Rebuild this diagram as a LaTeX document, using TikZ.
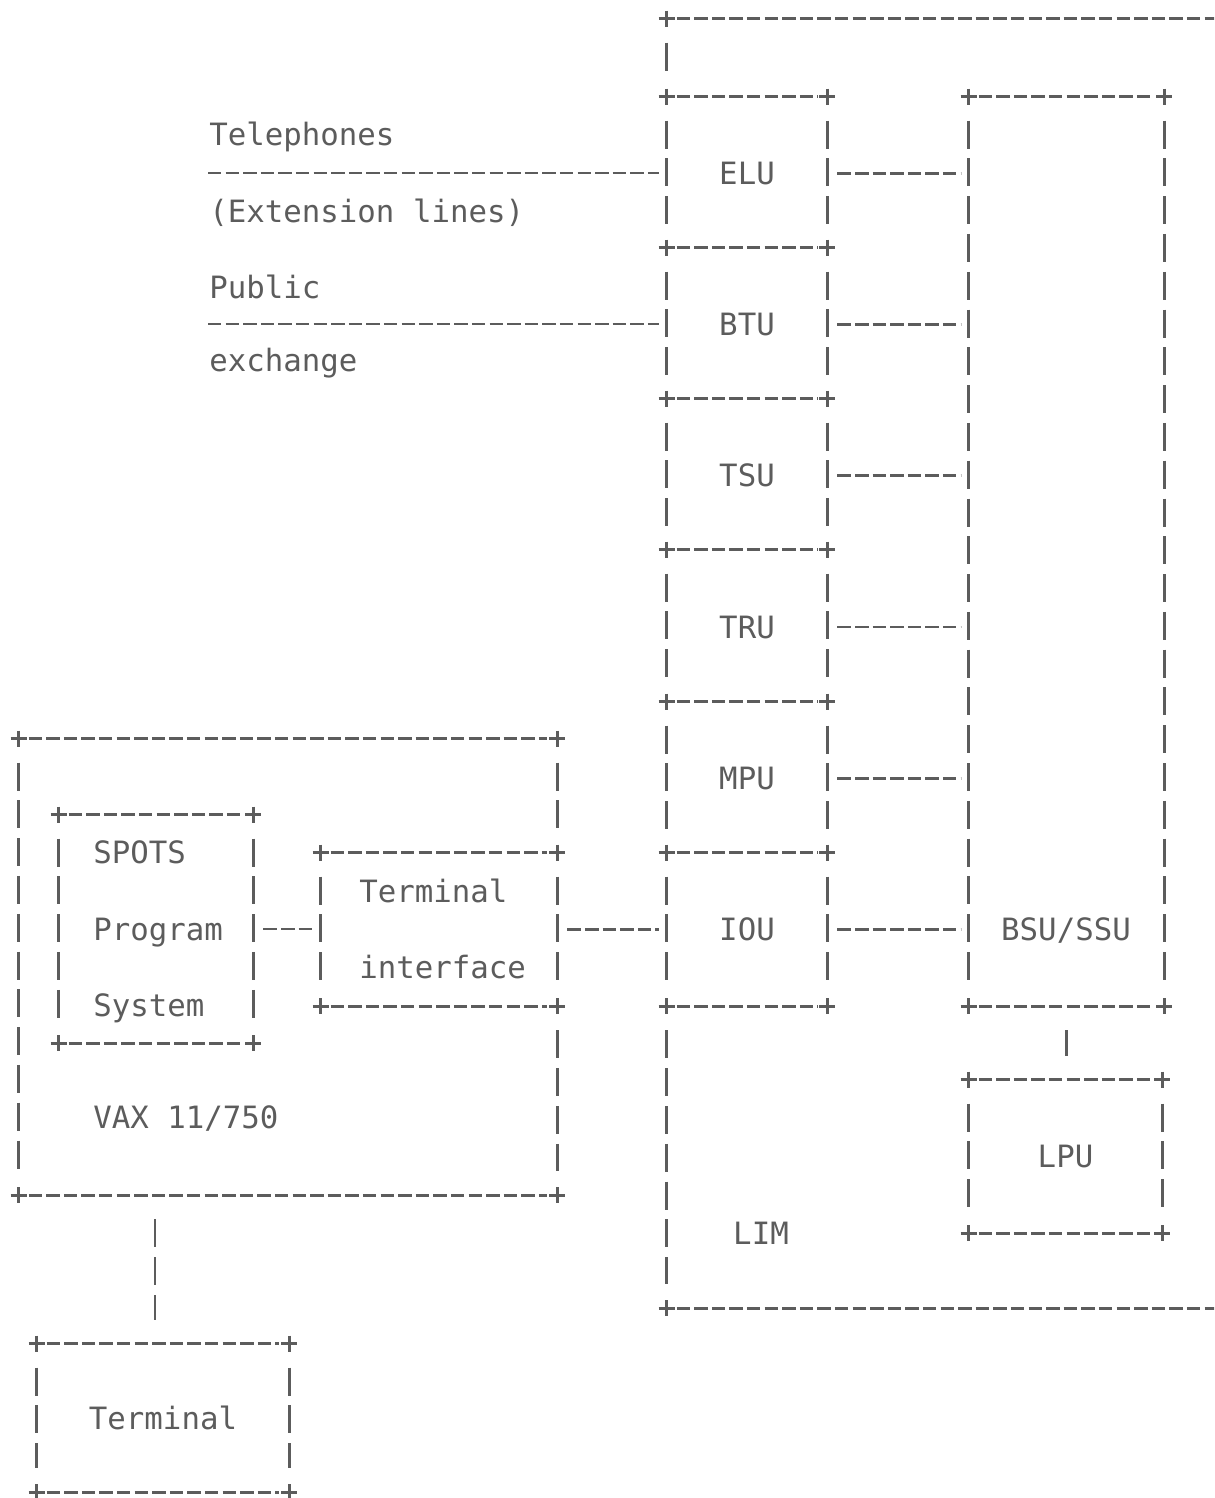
\documentclass[tikz,border=0pt]{standalone}
\usepackage{fontspec}
\newfontfamily\ketikfont{DejaVu Sans Mono}
\usetikzlibrary{calc, fit}
\definecolor{tintaabu}{RGB}{92,92,92}

\begin{document}
\begin{tikzpicture}[x=0.02cm, y=-0.02cm, line width=1.6pt, color=tintaabu,
    font=\ketikfont\fontsize{17.5}{43.3}\selectfont,
    kotak/.style={draw=none, inner sep=0pt},
    lbl/.style={inner sep=0pt, text height=0.45cm, text depth=0pt},
    every label/.style={lbl},
    hgaris/.style={dash pattern=on 0.27cm off 0.082cm},
    vgaris/.style={dash pattern=on 0.56cm off 0.196cm}]
    \useasboundingbox (0,0) rectangle (1214,1498);
    \clip (0,0) rectangle (1214,1498);

    % LIM
    \node[kotak, fit={(668,20) (1260,1307)}] (lim) {};
    \node[kotak, fit={(668,98) (826,249)}, label=center:ELU] (elu) {};
    \node[kotak, fit={(668,249) (826,400)}, label=center:BTU] (btu) {};
    \node[kotak, fit={(668,400) (826,551)}, label=center:TSU] (tsu) {};
    \node[kotak, fit={(668,551) (826,703)}, label=center:TRU] (tru) {};
    \node[kotak, fit={(668,703) (826,854)}, label=center:MPU] (mpu) {};
    \node[kotak, fit={(668,854) (826,1005)}, label=center:IOU] (iou) {};
    \node[kotak, fit={(970,98) (1163,1005)}] (bsu) {};
    \node[kotak, fit={(970,1081) (1161,1232)}, label=center:LPU] (lpu) {};
    \node[lbl] (bsulbl) at (1066,929) {BSU/SSU};
    \node[lbl] (limlbl) at (761,1233) {LIM};

    % VAX
    \node[kotak, fit={(20,740) (556,1194)}] (vax) {};
    \node[kotak, fit={(60,816) (252,1042)}] (spots) {};
    \node[lbl, anchor=west] (spots1) at (92,852) {SPOTS};
    \node[lbl, anchor=west] (spots2) at (92,929) {Program};
    \node[lbl, anchor=west] (spots3) at (92,1005) {System};
    \node[kotak, fit={(322,854) (556,1005)}] (ti) {};
    \node[lbl, anchor=west] (ti1) at (358,891) {Terminal};
    \node[lbl, anchor=west] (ti2) at (358,967) {interface};
    \node[lbl, anchor=west] (vaxlbl) at (92,1117) {VAX 11/750};
    \node[kotak, fit={(38,1345) (288,1491)}, label=center:Terminal] (term) {};

    % lines in
    \node[lbl, anchor=west] (telp) at (208,134) {Telephones};
    \node[lbl, anchor=west] (ext) at (208,211) {(Extension lines)};
    \node[lbl, anchor=west] (pub) at (208,287) {Public};
    \node[lbl, anchor=west] (exch) at (208,360) {exchange};
    \coordinate (telin) at (208,173);
    \coordinate (pubin) at (208,324);

    % box borders, top and sides
    \foreach \bx in {elu,btu,tsu,tru,mpu,iou,bsu,lpu,spots,ti,term}{
        \draw[hgaris] ($(\bx.north west)+(10,0)$) -- ($(\bx.north east)+(-10,0)$);
        \draw[vgaris] ($(\bx.north west)+(0,24)$) -- ($(\bx.south west)+(0,-24)$);
        \draw[vgaris] ($(\bx.north east)+(0,24)$) -- ($(\bx.south east)+(0,-24)$);
        \foreach \sudut in {north west,north east}
            \draw ($(\bx.\sudut)+(-8,0)$) -- ++(16,0) ($(\bx.\sudut)+(0,-8)$) -- ++(0,16);
    }
    % bottoms that are not shared
    \foreach \bx in {iou,bsu,lpu,spots,ti,term}{
        \draw[hgaris] ($(\bx.south west)+(10,0)$) -- ($(\bx.south east)+(-10,0)$);
        \foreach \sudut in {south west,south east}
            \draw ($(\bx.\sudut)+(-8,0)$) -- ++(16,0) ($(\bx.\sudut)+(0,-8)$) -- ++(0,16);
    }

    % LIM frame
    \draw[hgaris] ($(lim.north west)+(10,0)$) -- (lim.north east);
    \draw[hgaris] ($(lim.south west)+(10,0)$) -- (lim.south east);
    \draw[vgaris] ($(lim.north west)+(0,24)$) -- ($(elu.north west)+(0,-24)$);
    \draw[vgaris] ($(iou.south west)+(0,24)$) -- ($(lim.south west)+(0,-24)$);
    \foreach \sudut in {north west,south west}
        \draw ($(lim.\sudut)+(-8,0)$) -- ++(16,0) ($(lim.\sudut)+(0,-8)$) -- ++(0,16);

    % VAX frame
    \draw[hgaris] ($(vax.north west)+(10,0)$) -- ($(vax.north east)+(-10,0)$);
    \draw[hgaris] ($(vax.south west)+(10,0)$) -- ($(vax.south east)+(-10,0)$);
    \draw[vgaris] ($(vax.north west)+(0,24)$) -- ($(vax.south west)+(0,-24)$);
    \draw[vgaris] ($(vax.north east)+(0,24)$) -- ($(ti.north east)+(0,-24)$);
    \draw[vgaris] ($(ti.south east)+(0,24)$) -- ($(vax.south east)+(0,-24)$);
    \foreach \sudut in {north west,north east,south west,south east}
        \draw ($(vax.\sudut)+(-8,0)$) -- ++(16,0) ($(vax.\sudut)+(0,-8)$) -- ++(0,16);

    % connectors
    \draw[hgaris] (telin) -- ($(telin -| elu.west)+(-8,0)$);
    \draw[hgaris] (pubin) -- ($(pubin -| btu.west)+(-8,0)$);
    \foreach \ub in {elu,btu,tsu,tru,mpu,iou}
        \draw[hgaris] ($(\ub.east)+(10,0)$) -- ($(\ub.east -| bsu.west)+(-8,0)$);
    \draw[hgaris] ($(spots.east)+(10,0)$) -- ($(spots.east -| ti.west)+(-8,0)$);
    \draw[hgaris] ($(ti.east)+(10,0)$) -- ($(ti.east -| iou.west)+(-8,0)$);
    \draw[vgaris] ($(bsu.south)+(0,24)$) -- ($(bsu.south |- lpu.north)+(0,-24)$);
    \draw[vgaris] ($(vax.south -| term.north)+(-8,24)$) -- ($(term.north)+(-8,-24)$);
\end{tikzpicture}
\end{document}
